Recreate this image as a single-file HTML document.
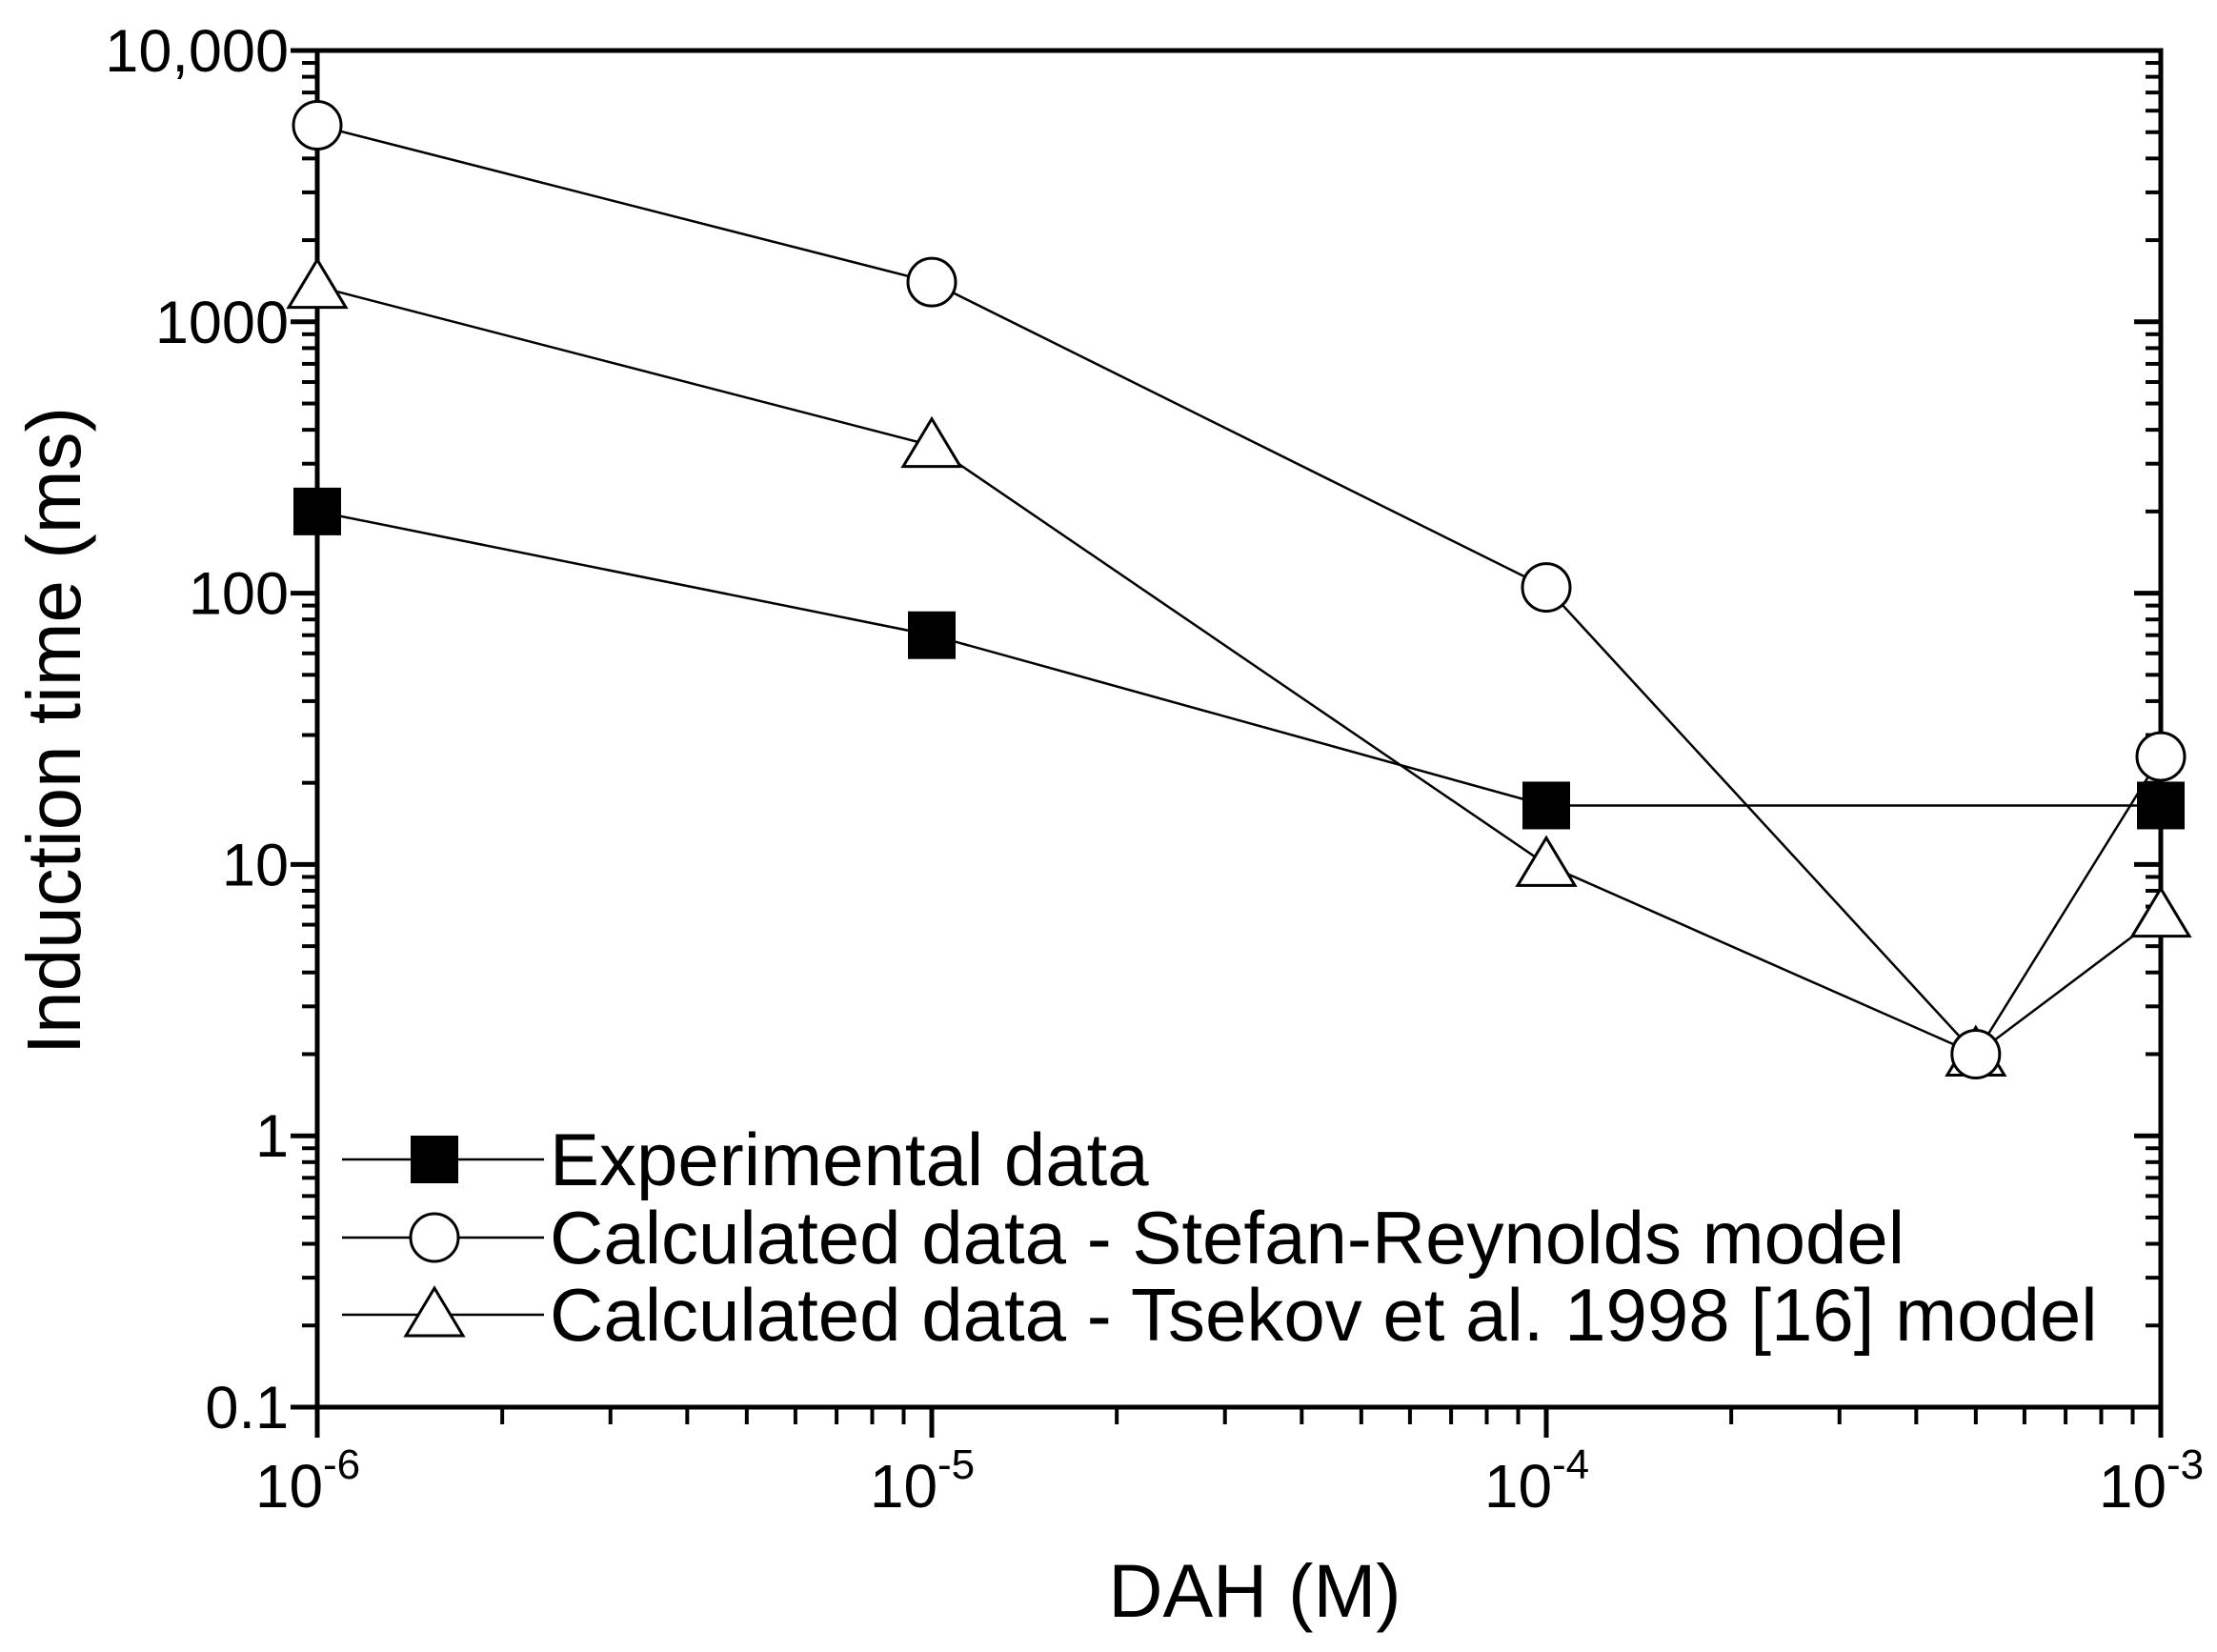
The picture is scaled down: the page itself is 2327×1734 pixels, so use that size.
<!DOCTYPE html>
<html><head><meta charset="utf-8"><style>
html,body{margin:0;padding:0;background:#fff;}
svg{display:block;font-family:"Liberation Sans",Arial,sans-serif;}
</style></head><body>
<svg id="chart" width="2327" height="1734" viewBox="0 0 2327 1734">
<g id="axes"></g><g id="series"></g><g id="legend"></g>
</svg>
<script>
const xValues = [1e-6, 1e-5, 1e-4, 5e-4, 1e-3];
const experimental = [200, 70, 16.5, null, 16.5];
const stefanReynolds = [5300, 1400, 105, 2, 25];
const tsekov = [1350, 350, 10, 2, 6.5];
const yTickValues = [0.1, 1, 10, 100, 1000, 10000];
const yTickLabels = ["0.1", "1", "10", "100", "1000", "10,000"];
const xTickExps = [-6, -5, -4, -3];
const legendLabels = ["Experimental data", "Calculated data - Stefan-Reynolds model", "Calculated data - Tsekov et al. 1998 [16] model"];

const NS = "http://www.w3.org/2000/svg";
const L = 333, R = 2268, T = 53, B = 1477;
const xMinL = -6, xMaxL = -3, yMinL = -1, yMaxL = 4;
function xs(v){ return L + (Math.log10(v) - xMinL) / (xMaxL - xMinL) * (R - L); }
function ys(v){ return B - (Math.log10(v) - yMinL) / (yMaxL - yMinL) * (B - T); }
function mk(tag, attrs, parent){ const e = document.createElementNS(NS, tag); for (const k in attrs) e.setAttribute(k, attrs[k]); parent.appendChild(e); return e; }

const axes = document.getElementById('axes');
const frame = mk('rect', {x:L, y:T, width:R-L, height:B-T, fill:'none', stroke:'#000', 'stroke-width':5}, axes);



for (let d = yMinL; d <= yMaxL; d++) {
  const v = Math.pow(10, d);
  const y = ys(v);
  mk('line', {x1:L-28, x2:L, y1:y, y2:y, stroke:'#000', 'stroke-width':5}, axes);
  mk('line', {x1:R-28, x2:R, y1:y, y2:y, stroke:'#000', 'stroke-width':5}, axes);
  if (d < yMaxL) for (let m = 2; m <= 9; m++) {
    const ym = ys(m * v);
    mk('line', {x1:L-16, x2:L, y1:ym, y2:ym, stroke:'#000', 'stroke-width':4}, axes);
    mk('line', {x1:R-16, x2:R, y1:ym, y2:ym, stroke:'#000', 'stroke-width':4}, axes);
  }
}
yTickValues.forEach((v, i) => {
  const t = mk('text', {x:L-30, y:ys(v)+22, 'text-anchor':'end', 'font-size':63}, axes);
  t.textContent = yTickLabels[i];
  
  
});
for (let d = xMinL; d <= xMaxL; d++) {
  const v = Math.pow(10, d);
  const x = xs(v);
  mk('line', {x1:x, x2:x, y1:B, y2:B+32, stroke:'#000', 'stroke-width':5}, axes);
  if (d < xMaxL) for (let m = 2; m <= 9; m++) {
    const xm = xs(m * v);
    mk('line', {x1:xm, x2:xm, y1:B, y2:B+18, stroke:'#000', 'stroke-width':4}, axes);
  }
}
xTickExps.forEach(e => {
  const t = mk('text', {x:xs(Math.pow(10, e))-10, y:1582, 'text-anchor':'middle', 'font-size':64}, axes);
  t.textContent = '10';
  
  
  const s = mk('tspan', {dx:0, dy:-30, 'font-size':44}, t);
  s.textContent = String(e);
});
const xt = mk('text', {x:1317, y:1697, 'text-anchor':'middle', 'font-size':79}, axes);
xt.textContent = 'DAH (M)';


const yt = mk('text', {x:0, y:0, 'text-anchor':'middle', 'font-size':80, transform:'translate(84,767) rotate(-90)'}, axes);
yt.textContent = 'Induction time (ms)';



function marker(type, x, y, parent){
  let e;
  if (type === 'square') e = mk('rect', {x:x-25, y:y-25, width:50, height:50, fill:'#000'}, parent);
  else if (type === 'circle') e = mk('circle', {cx:x, cy:y, r:25, fill:'#fff', stroke:'#000', 'stroke-width':3}, parent);
  else e = mk('polygon', {points:`${x-30},${y+22} ${x+30},${y+22} ${x},${y-28}`, fill:'#fff', stroke:'#000', 'stroke-width':3}, parent);
  return e;
}
const series = document.getElementById('series');
const allSeries = [[tsekov,'triangle','series-tsekov'],[stefanReynolds,'circle','series-stefan-reynolds'],[experimental,'square','series-experimental']];
allSeries.forEach(([vals, type, name]) => {
  const g = mk('g', {}, series);
  
  
  const pts = [];
  vals.forEach((v, i) => { if (v != null) pts.push([xs(xValues[i]), ys(v)]); });
  const pl = mk('polyline', {points:pts.map(p=>p.join(',')).join(' '), fill:'none', stroke:'#000', 'stroke-width':2.5}, g);
  
  
  pts.forEach(p => {
    const m = marker(type, p[0], p[1], g);
    
    
  });
});

const legend = document.getElementById('legend');
const legendYs = [1217, 1299, 1380];
const legendTypes = ['square', 'circle', 'triangle'];
legendLabels.forEach((lab, i) => {
  const g = mk('g', {}, legend);
  
  
  const y = legendYs[i];
  mk('line', {x1:359, x2:571, y1:y, y2:y, stroke:'#000', 'stroke-width':2.5}, g);
  marker(legendTypes[i], 456, y, g);
  const t = mk('text', {x:577, y:y+27, 'font-size':78}, g);
  t.textContent = lab;
});
</script>
</body></html>
